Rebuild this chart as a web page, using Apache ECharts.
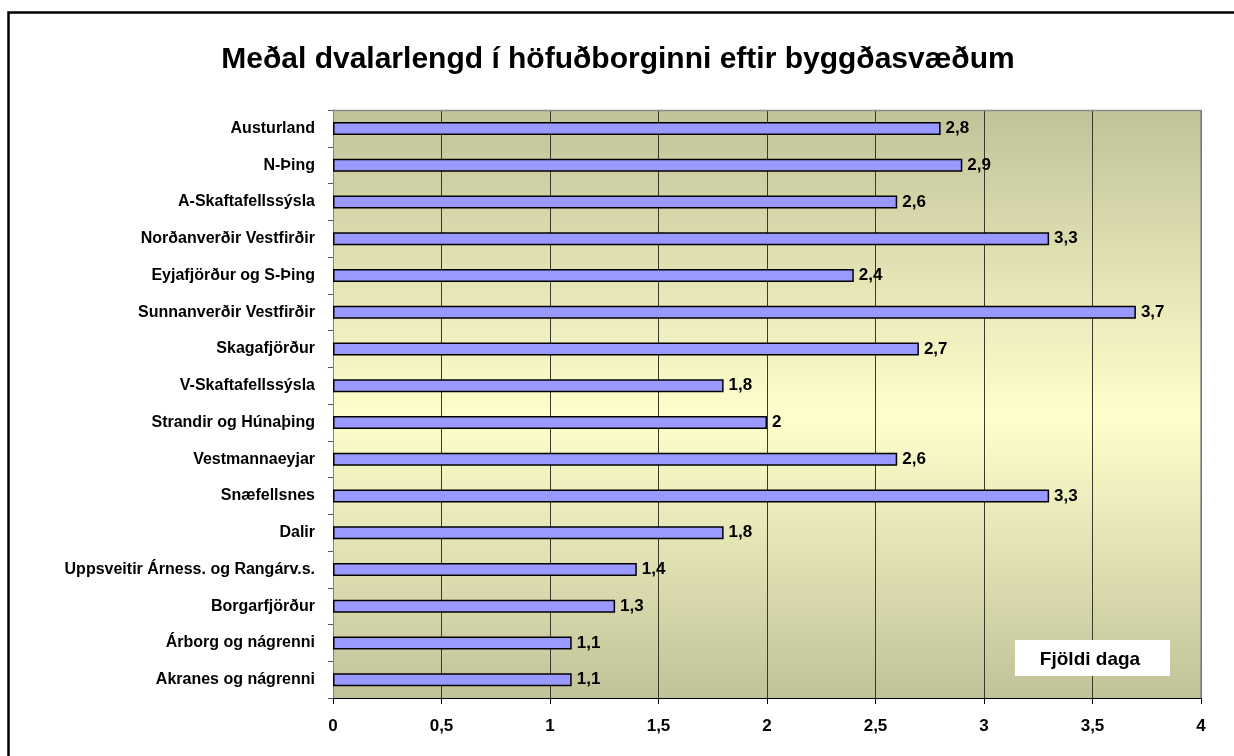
<!DOCTYPE html>
<html>
<head>
<meta charset="utf-8">
<script src="https://cdn.jsdelivr.net/npm/echarts@6/dist/echarts.min.js"></script>
<style>
html,body{margin:0;padding:0;background:#fff;}
#chart{width:1234px;height:756px;}
</style>
</head>
<body>
<div id="chart"></div>
<script>
const title = 'Meðal dvalarlengd í höfuðborginni eftir byggðasvæðum';
const categories = ['Austurland','N-Þing','A-Skaftafellssýsla','Norðanverðir Vestfirðir','Eyjafjörður og S-Þing','Sunnanverðir Vestfirðir','Skagafjörður','V-Skaftafellssýsla','Strandir og Húnaþing','Vestmannaeyjar','Snæfellsnes','Dalir','Uppsveitir Árness. og Rangárv.s.','Borgarfjörður','Árborg og nágrenni','Akranes og nágrenni'];
const values = [2.8,2.9,2.6,3.3,2.4,3.7,2.7,1.8,2,2.6,3.3,1.8,1.4,1.3,1.1,1.1];
const legendText = 'Fjöldi daga';
const xMin = 0, xMax = 4, xStep = 0.5;

const FONT = '"Liberation Sans", Arial, sans-serif';
const fmt = v => String(v).replace('.', ',');
const chart = echarts.init(document.getElementById('chart'));
chart.setOption({
  animation: false,
  backgroundColor: '#fff',
  textStyle: {fontFamily: FONT},
  grid: {
    left: 333, right: 33, top: 110, bottom: 58,
    show: true,
    borderWidth: 0,
    backgroundColor: new echarts.graphic.LinearGradient(0, 0, 0, 1, [
      {offset: 0, color: '#C2C29A'},
      {offset: 0.52, color: '#FFFFCC'},
      {offset: 1, color: '#C2C29A'}
    ])
  },
  xAxis: {
    type: 'value', min: xMin, max: xMax, interval: xStep,
    axisLine: {show: true, lineStyle: {color: '#000', width: 1}},
    axisTick: {show: true, length: 6, lineStyle: {color: '#000'}},
    axisLabel: {formatter: fmt, color: '#000', fontWeight: 'bold', fontSize: 17, margin: 20, fontFamily: FONT},
    splitLine: {show: true, lineStyle: {color: '#3a3a2a', width: 1}}
  },
  yAxis: {
    type: 'category', data: categories, inverse: true,
    axisLine: {show: true, lineStyle: {color: '#808080', width: 1}},
    axisTick: {show: true, length: 5, lineStyle: {color: '#555'}},
    axisLabel: {color: '#000', fontWeight: 'bold', fontSize: 16, margin: 18, fontFamily: FONT}
  },
  series: [{
    type: 'bar', data: values, barWidth: 13,
    itemStyle: {color: '#9999FF', borderColor: '#000', borderWidth: 1.5},
    label: {show: true, position: 'right', distance: 5, formatter: p => fmt(p.value), color: '#000', fontWeight: 'bold', fontSize: 17, fontFamily: FONT}
  }],
  graphic: [
    {type: 'rect', left: 6, top: 10, shape: {width: 1240, height: 760}, style: {fill: 'none', stroke: '#000', lineWidth: 2.5}, silent: true, z: 100},
    {type: 'line', shape: {x1: 333, y1: 110.5, x2: 1201, y2: 110.5}, style: {stroke: '#8a8a8a', lineWidth: 1.5}, z: 50},
    {type: 'line', shape: {x1: 1201, y1: 110, x2: 1201, y2: 698}, style: {stroke: '#8a8a8a', lineWidth: 1.5}, z: 50},
    {type: 'text', x: 618, y: 60, style: {text: title, fill: '#000', font: 'bold 30px ' + FONT, textAlign: 'center', textVerticalAlign: 'middle'}, z: 60},
    {type: 'rect', shape: {x: 1015, y: 640, width: 155, height: 36}, style: {fill: '#fff', stroke: 'none'}, z: 60},
    {type: 'text', x: 1090, y: 660, style: {text: legendText, fill: '#000', font: 'bold 19px ' + FONT, textAlign: 'center', textVerticalAlign: 'middle'}, z: 61}
  ]
});
</script>
</body>
</html>
